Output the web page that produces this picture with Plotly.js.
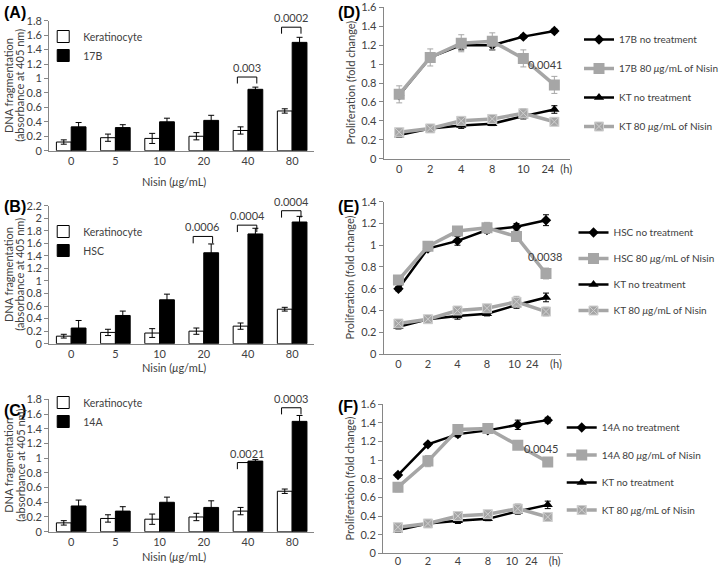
<!DOCTYPE html>
<html><head><meta charset="utf-8">
<script src="https://cdn.plot.ly/plotly-3.0.1.min.js"></script>
<style>html,body{margin:0;padding:0;background:#fff}#chart{width:724px;height:567px}</style>
</head><body><div id="chart"></div>
<script>
// ---------- data: DNA fragmentation (bar panels A-C) ----------
const doseCats = ["0", "5", "10", "20", "40", "80"];
const kerMean = [0.12, 0.18, 0.17, 0.20, 0.28, 0.55];
const kerErr  = [0.03, 0.05, 0.07, 0.05, 0.05, 0.03];
const b17Mean = [0.33, 0.32, 0.40, 0.42, 0.85, 1.50];
const b17Err  = [0.06, 0.04, 0.05, 0.07, 0.03, 0.07];
const hscMean = [0.25, 0.45, 0.70, 1.45, 1.75, 1.94];
const hscErr  = [0.12, 0.07, 0.09, 0.14, 0.09, 0.09];
const a14Mean = [0.35, 0.28, 0.40, 0.33, 0.96, 1.50];
const a14Err  = [0.08, 0.06, 0.07, 0.09, 0.02, 0.08];

// p-value brackets
const aPCats = ["40", "80"];        const aPText = ["0.003", "0.0002"];          const aPLevel = [1.02, 1.71];
const bPCats = ["20", "40", "80"];  const bPText = ["0.0006", "0.0004", "0.0004"]; const bPLevel = [1.71, 1.89, 2.12];
const cPCats = ["40", "80"];        const cPText = ["0.0021", "0.0003"];         const cPLevel = [0.94, 1.685];

// ---------- data: proliferation (line panels D-F) ----------
const hourLabels = ["0", "2", "4", "8", "10", "24"];
const hourUnit = "(h)";
const b17NoTx     = [0.67, 1.07, 1.20, 1.20, 1.29, 1.35];
const b17NoTxErr  = [0.03, 0.03, 0.05, 0.05, 0.02, 0.02];
const b17Nisin    = [0.68, 1.07, 1.22, 1.24, 1.06, 0.78];
const b17NisinErr = [0.09, 0.09, 0.09, 0.09, 0.09, 0.09];
const hscNoTx     = [0.60, 0.97, 1.04, 1.14, 1.17, 1.23];
const hscNoTxErr  = [0.02, 0.02, 0.04, 0.03, 0.03, 0.05];
const hscNisin    = [0.68, 0.99, 1.13, 1.16, 1.08, 0.74];
const hscNisinErr = [0.03, 0.03, 0.03, 0.05, 0.04, 0.05];
const a14NoTx     = [0.84, 1.17, 1.28, 1.32, 1.38, 1.43];
const a14NoTxErr  = [0.02, 0.02, 0.03, 0.03, 0.05, 0.03];
const a14Nisin    = [0.71, 0.99, 1.33, 1.34, 1.16, 0.98];
const a14NisinErr = [0.05, 0.06, 0.02, 0.02, 0.02, 0.03];
const ktNoTx      = [0.25, 0.32, 0.35, 0.37, 0.45, 0.52];
const ktNoTxErr   = [0.02, 0.02, 0.03, 0.02, 0.03, 0.04];
const ktNisin     = [0.28, 0.32, 0.40, 0.42, 0.48, 0.39];
const ktNisinErr  = [0.03, 0.02, 0.03, 0.03, 0.05, 0.04];
const pLineText = ["0.0041", "0.0038", "0.0045"];

// ---------- helpers ----------
const W = 724, H = 567;
const FONT = 'Lato, "Open Sans", sans-serif';
const TXT = '#404040';
const AX = '#868686';
const GRAY = '#a6a6a6';
const px = x => x / W;
const py = y => 1 - y / H;
const sfx = n => (n === 1 ? '' : String(n));
const MU = '<i>μ</i>';

const traces = [];
const shapes = [];
const annotations = [];

function barPanel(n, cellName, cellMean, cellErr) {
  const common = { type: 'bar', x: doseCats, xaxis: 'x' + sfx(n), yaxis: 'y' + sfx(n), legend: 'legend' + sfx(n) };
  traces.push(Object.assign({}, common, {
    name: 'Keratinocyte', y: kerMean,
    error_y: { type: 'data', array: kerErr, color: '#000', thickness: 1, width: 3 },
    marker: { color: '#ffffff', line: { color: '#000', width: 1 } }
  }));
  traces.push(Object.assign({}, common, {
    name: cellName, y: cellMean,
    error_y: { type: 'data', array: cellErr, color: '#000', thickness: 1, width: 3 },
    marker: { color: '#000000', line: { color: '#000', width: 1 } }
  }));
}
barPanel(1, '17B', b17Mean, b17Err);
barPanel(2, 'HSC', hscMean, hscErr);
barPanel(3, '14A', a14Mean, a14Err);

function brackets(n, cats, texts, levels, yRange) {
  const xr = 'x' + sfx(n), yr = 'y' + sfx(n);
  const drop = 0.05 * yRange;
  cats.forEach((c, k) => {
    const i = doseCats.indexOf(c);
    const x0 = i - 0.24, x1 = i + 0.2, top = levels[k], bot = levels[k] - drop;
    const ln = { type: 'line', xref: xr, yref: yr, line: { color: '#000', width: 1 } };
    shapes.push(Object.assign({}, ln, { x0: x0, x1: x0, y0: bot, y1: top }));
    shapes.push(Object.assign({}, ln, { x0: x0, x1: x1, y0: top, y1: top }));
    shapes.push(Object.assign({}, ln, { x0: x1, x1: x1, y0: bot, y1: top }));
    annotations.push({ xref: xr, yref: yr, x: (x0 + x1) / 2, y: top, text: texts[k], showarrow: false,
      yanchor: 'bottom', yshift: 1, font: { family: FONT, size: 11, color: TXT } });
  });
}
brackets(1, aPCats, aPText, aPLevel, 1.8);
brackets(2, bPCats, bPText, bPLevel, 2.2);
brackets(3, cPCats, cPText, cPLevel, 1.8);

const hourIdx = hourLabels.map((_, i) => i);
function linePanel(n, cellName, noTx, noTxErr, nis, nisErr) {
  const common = { type: 'scatter', mode: 'lines+markers', x: hourIdx, xaxis: 'x' + sfx(n), yaxis: 'y' + sfx(n), legend: 'legend' + sfx(n) };
  traces.push(Object.assign({}, common, {
    name: cellName + ' no treatment', y: noTx, legendgroup: 'g1' + n,
    error_y: { type: 'data', array: noTxErr, color: '#000', thickness: 1, width: 3 },
    line: { color: '#000', width: 2.5 }, marker: { symbol: 'diamond', size: 8, color: '#000' }
  }));
  traces.push(Object.assign({}, common, {
    name: cellName + ' 80 ' + MU + 'g/mL of Nisin', y: nis, legendgroup: 'g2' + n,
    error_y: { type: 'data', array: nisErr, color: GRAY, thickness: 1, width: 3 },
    line: { color: GRAY, width: 3.5 }, marker: { symbol: 'square', size: 11, color: GRAY }
  }));
  traces.push(Object.assign({}, common, {
    name: 'KT no treatment', y: ktNoTx, legendgroup: 'g3' + n,
    error_y: { type: 'data', array: ktNoTxErr, color: '#000', thickness: 1, width: 3 },
    line: { color: '#000', width: 2.5 }, marker: { symbol: 'triangle-up', size: 9, color: '#000' }
  }));
  traces.push(Object.assign({}, common, {
    name: 'KT 80 ' + MU + 'g/mL of Nisin', y: ktNisin, legendgroup: 'g4' + n,
    error_y: { type: 'data', array: ktNisinErr, color: GRAY, thickness: 1, width: 3 },
    line: { color: GRAY, width: 3.5 }, marker: { symbol: 'square-x', size: 9, color: GRAY, line: { color: '#cfcfcf', width: 1 } }
  }));
}
linePanel(4, '17B', b17NoTx, b17NoTxErr, b17Nisin, b17NisinErr);
linePanel(5, 'HSC', hscNoTx, hscNoTxErr, hscNisin, hscNisinErr);
linePanel(6, '14A', a14NoTx, a14NoTxErr, a14Nisin, a14NisinErr);

// p-values on line panels
[[4, 4.72, 1.0], [5, 4.99, 0.894], [6, 4.8, 1.13]].forEach((p, k) => {
  annotations.push({ xref: 'x' + p[0], yref: 'y' + p[0], x: p[1], y: p[2], text: pLineText[k], showarrow: false,
    font: { family: FONT, size: 11, color: TXT } });
});

// panel letters
[['(A)', 2, 12.5], ['(B)', 2, 206], ['(C)', 2, 410], ['(D)', 342, 12.5], ['(E)', 342, 206], ['(F)', 342, 406]].forEach(p => {
  annotations.push({ xref: 'paper', yref: 'paper', x: px(p[1]), y: py(p[2]), xanchor: 'left', yanchor: 'middle',
    text: '<b>' + p[0] + '</b>', showarrow: false, font: { family: '"Liberation Sans", Arial, sans-serif', size: 16, color: '#000' } });
});

// axis titles (placed as paper annotations for exact positioning)
const titleFont = { family: FONT, size: 11, color: TXT };
function yTitle(lines, xs, top, bottom) {
  lines.forEach((t, k) => annotations.push({ xref: 'paper', yref: 'paper', x: px(xs[k]), y: py((top + bottom) / 2),
    xanchor: 'center', yanchor: 'middle', textangle: -90, text: t, showarrow: false, font: titleFont }));
}
function xTitle(t, x, y) {
  annotations.push({ xref: 'paper', yref: 'paper', x: px(x), y: py(y), xanchor: 'center', yanchor: 'middle',
    text: t, showarrow: false, font: titleFont });
}
const DNA = ['DNA fragmentation', '(absorbance at 405 nm)'];
const PRO = ['Proliferation (fold change)'];
const NIS = 'Nisin (' + MU + 'g/mL)';
yTitle(DNA, [8.5, 20.5], 20.7, 150.7);
yTitle(DNA, [8.5, 20.5], 205.7, 343.7);
yTitle(DNA, [8.5, 20.5], 399.3, 531.7);
yTitle(PRO, [356], 7.3, 158.7);
yTitle(PRO, [356], 201.7, 354);
yTitle(PRO, [356], 404.3, 553.3);
xTitle(NIS, 177, 181.7);
xTitle(NIS, 177, 367.7);
xTitle(NIS, 177, 556.7);

// ---------- axes ----------
function yAxis(top, bottom, range, anchor) {
  return {
    domain: [py(bottom), py(top)], range: range, dtick: 0.2, tick0: 0, anchor: anchor,
    showline: true, linecolor: AX, linewidth: 1, ticks: 'outside', ticklen: 4, tickcolor: AX,
    showgrid: false, zeroline: false, fixedrange: true,
    tickfont: { family: FONT, size: 11, color: TXT }
  };
}
function xBar(anchor) {
  return {
    domain: [px(50), px(320)], type: 'category', anchor: anchor,
    showline: true, linecolor: AX, linewidth: 1, ticks: '', showgrid: false, zeroline: false, fixedrange: true,
    tickfont: { family: FONT, size: 11, color: TXT }
  };
}
function xLine(left, right, anchor, tickvals, standoff) {
  return {
    domain: [px(left), px(right)], range: [-0.5, 5.5], anchor: anchor,
    showline: true, linecolor: AX, linewidth: 1, ticks: '', showgrid: false, zeroline: false, fixedrange: true,
    tickmode: 'array', tickvals: tickvals, ticktext: hourLabels.concat([hourUnit]),
    ticklabelstandoff: standoff,
    tickfont: { family: FONT, size: 11, color: TXT }
  };
}

function lineLegend(x, top, gap) {
  return { x: px(x), y: py(top), xanchor: 'left', yanchor: 'top', bgcolor: 'rgba(0,0,0,0)',
    traceorder: 'grouped', tracegroupgap: gap, font: { family: FONT, size: 10, color: TXT } };
}
function barLegend(x, top) {
  return { x: px(x), y: py(top), xanchor: 'left', yanchor: 'top', bgcolor: 'rgba(0,0,0,0)',
    font: { family: FONT, size: 10.5, color: TXT } };
}

const layout = {
  width: W, height: H, margin: { l: 0, r: 0, t: 0, b: 0 },
  paper_bgcolor: '#fff', plot_bgcolor: '#fff',
  font: { family: FONT, size: 11, color: TXT },
  barmode: 'group', bargap: 0.33, bargroupgap: 0,
  xaxis:  xBar('y'),
  yaxis:  yAxis(20.7, 150.7, [0, 1.8], 'x'),
  xaxis2: xBar('y2'),
  yaxis2: yAxis(205.7, 343.7, [0, 2.2], 'x2'),
  xaxis3: xBar('y3'),
  yaxis3: yAxis(399.3, 531.7, [0, 1.8], 'x3'),
  xaxis4: xLine(390.7, 580.3, 'y4', [0, 1, 2, 3, 4, 4.79, 5.38], 0),
  yaxis4: yAxis(7.3, 158.7, [0, 1.6], 'x4'),
  xaxis5: xLine(390.7, 571, 'y5', [0, 1, 2, 3, 3.93, 4.53, 5.34], 0),
  yaxis5: yAxis(201.7, 354, [0, 1.4], 'x5'),
  xaxis6: xLine(390, 573, 'y6', [0, 1, 2, 3, 3.8, 4.45, 5.23], -3),
  yaxis6: yAxis(404.3, 553.3, [0, 1.6], 'x6'),
  legend:  barLegend(44, 22),
  legend2: barLegend(44, 217),
  legend3: barLegend(44, 388),
  legend4: lineLegend(590, 25, 10),
  legend5: lineLegend(584, 218, 7),
  legend6: lineLegend(572, 413, 8.5),
  shapes: shapes,
  annotations: annotations
};

Plotly.newPlot('chart', traces, layout, { displayModeBar: false, staticPlot: true });
</script>
</body></html>
